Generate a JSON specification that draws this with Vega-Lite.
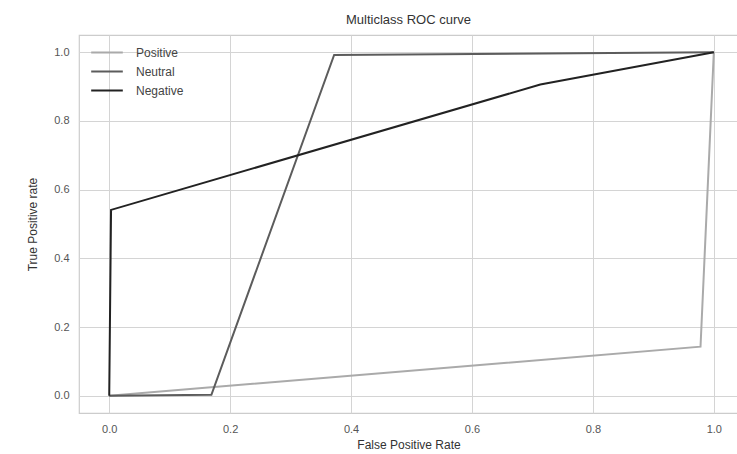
{
  "$schema": "https://vega.github.io/schema/vega-lite/v6.json",
  "autosize": {"type": "none"},
  "width": 659,
  "height": 378,
  "padding": {"left": 79, "top": 35, "right": 0, "bottom": 41},
  "title": {"text": "Multiclass ROC curve", "font": "Liberation Sans", "fontSize": 13, "fontWeight": "normal", "color": "#333333", "offset": 8},
  "config": {
    "font": "Liberation Sans",
    "view": {"stroke": "#cccccc", "strokeWidth": 1.2},
    "axis": {"gridColor": "#d4d4d4", "gridWidth": 1, "domain": false, "ticks": false, "labelColor": "#555555", "labelFontSize": 11, "titleFontSize": 12, "titleFontWeight": "normal", "titleColor": "#333333", "labelPadding": 10}
  },
  "data": {"values": [
    {"cls": "Positive", "i": 0, "fpr": 0.0, "tpr": 0.0},
    {"cls": "Positive", "i": 1, "fpr": 0.978, "tpr": 0.143},
    {"cls": "Positive", "i": 2, "fpr": 1.0, "tpr": 1.0},
    {"cls": "Neutral", "i": 0, "fpr": 0.0, "tpr": 0.0},
    {"cls": "Neutral", "i": 1, "fpr": 0.169, "tpr": 0.003},
    {"cls": "Neutral", "i": 2, "fpr": 0.372, "tpr": 0.992},
    {"cls": "Neutral", "i": 3, "fpr": 1.0, "tpr": 1.0},
    {"cls": "Negative", "i": 0, "fpr": 0.0, "tpr": 0.0},
    {"cls": "Negative", "i": 1, "fpr": 0.003, "tpr": 0.541},
    {"cls": "Negative", "i": 2, "fpr": 0.713, "tpr": 0.906},
    {"cls": "Negative", "i": 3, "fpr": 1.0, "tpr": 1.0}
  ]},
  "mark": {"type": "line", "strokeWidth": 2, "clip": true},
  "encoding": {
    "x": {"field": "fpr", "type": "quantitative", "scale": {"domain": [-0.05, 1.04], "nice": false, "zero": false},
          "axis": {"title": "False Positive Rate", "values": [0, 0.2, 0.4, 0.6, 0.8, 1.0], "format": ".1f", "titlePadding": 5}},
    "y": {"field": "tpr", "type": "quantitative", "scale": {"domain": [-0.05, 1.05], "nice": false, "zero": false},
          "axis": {"title": "True Positive rate", "values": [0, 0.2, 0.4, 0.6, 0.8, 1.0], "format": ".1f", "titlePadding": 14}},
    "color": {"field": "cls", "type": "nominal",
              "scale": {"domain": ["Positive", "Neutral", "Negative"], "range": ["#aaaaaa", "#5c5c5c", "#222222"]},
              "legend": {"title": null, "orient": "none", "legendX": 11, "legendY": 8, "padding": 0, "symbolType": "stroke", "symbolSize": 1000, "symbolStrokeWidth": 2, "labelFontSize": 12, "labelColor": "#444444", "rowPadding": 0, "clipHeight": 19, "labelOffset": 12}},
    "order": {"field": "i", "type": "quantitative"}
  }
}
